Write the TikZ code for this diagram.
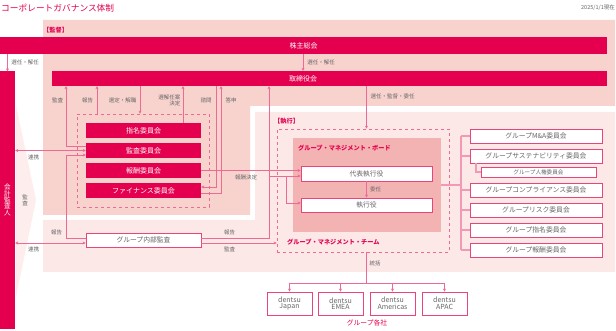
\documentclass[tikz,border=0pt]{standalone}
\usepackage{fontspec}
\setmainfont{Noto Sans CJK JP}
\usetikzlibrary{arrows.meta,calc}
\definecolor{mag}{HTML}{E4004F}
\definecolor{ln}{HTML}{EC6A93}
\definecolor{kan}{HTML}{F8D3CE}
\definecolor{shi}{HTML}{FDE8E8}
\definecolor{chev}{HTML}{FDEDED}
\definecolor{brd}{HTML}{F4B3B3}
\definecolor{txt}{HTML}{666666}
\definecolor{brk}{HTML}{F29AB5}
\definecolor{bx}{HTML}{E8457A}
\newcommand{\fsz}[1]{\fontsize{#1}{#1}\selectfont}
\begin{document}
\begin{tikzpicture}[x=1pt,y=-1pt,
  bar/.style={fill=mag,draw=none,text=white,font=\fsz{7},inner sep=0pt},
  wbox/.style={fill=white,draw=bx,line width=0.8pt,text=txt,font=\fsz{6.8},inner sep=0pt},
  lab/.style={text=txt,font=\fsz{5.5},inner sep=0pt},
  ttl/.style={text=mag,font=\bfseries\fsz{6.2},inner sep=0pt},
  arr/.style={draw=ln,line width=0.6pt,-{Stealth[length=3pt,width=3pt]}},
  dbl/.style={draw=ln,line width=0.6pt,{Stealth[length=3pt,width=3pt]}-{Stealth[length=3pt,width=3pt]}},
  link/.style={draw=ln,line width=0.6pt},
  brline/.style={draw=brk,line width=1.1pt}]
\useasboundingbox (0,0) rectangle (616,331);
% regions
\fill[kan] (43,20) -- (615,20) -- (615,106) -- (250,106) -- (250,215) -- (43,215) -- cycle;
\fill[shi] (255,112) -- (615,112) -- (615,272) -- (43,272) -- (43,220) -- (255,220) -- cycle;
\fill[chev] (16,105) -- (36,200) -- (16,297) -- cycle;
% titles
\node[anchor=west,text=mag,font=\fsz{8.7},inner sep=0pt] (title) at (1,8) {コーポレートガバナンス体制};
\node[anchor=east,lab] (date) at (615,8) {2025/1/1現在};
\node[anchor=west,ttl] (kantoku) at (43,30) {【監督】};
\node[anchor=west,ttl] (shikkoT) at (274,121) {【執行】};
% bars
\node[bar,minimum width=607,minimum height=17] (soukai) at (303.5,45.5) {株主総会};
\node[bar,minimum width=555,minimum height=15] (tori) at (329.5,78.5) {};
\node[text=white,font=\fsz{7},inner sep=0pt] (toriT) at (303,78.5) {取締役会};
\node[bar,minimum width=15,minimum height=257,align=center,font=\fsz{6.6}] (kaikei) at (7.5,200)
  {会\\[-0.2pt]計\\[-0.2pt]監\\[-0.2pt]査\\[-0.2pt]人};
% committees
\node[draw=ln,dashed,line width=0.6pt,minimum width=132,minimum height=93,inner sep=0pt] (cdash) at (143,160.5) {};
\node[bar,minimum width=115,minimum height=15] (shimei) at (143.5,130.5) {指名委員会};
\node[bar,minimum width=115,minimum height=15] (kansaC) at (143.5,150.5) {監査委員会};
\node[bar,minimum width=115,minimum height=15] (housyu) at (143.5,170.5) {報酬委員会};
\node[bar,minimum width=115,minimum height=15] (fin) at (143.5,190.5) {ファイナンス委員会};
\node[wbox,minimum width=115,minimum height=14] (naibu) at (143.5,240) {グループ内部監査};
% execution
\node[draw=ln,dashed,line width=0.6pt,minimum width=172,minimum height=123,inner sep=0pt] (team) at (363,190.5) {};
\node[fill=brd,minimum width=148,minimum height=94,inner sep=0pt] (board) at (367,185) {};
\node[anchor=west,ttl] (boardT) at (298,148) {グループ・マネジメント・ボード};
\node[anchor=west,ttl] (teamT) at (287,242) {グループ・マネジメント・チーム};
\node[wbox,minimum width=131,minimum height=15] (daihyo) at (366.5,173.5) {代表執行役};
\node[wbox,minimum width=131,minimum height=14] (shikkou) at (366.5,205) {執行役};
% right committees
\node[wbox,minimum width=132,minimum height=14] (ma) at (536,136) {グループM\&A委員会};
\node[wbox,minimum width=132,minimum height=14] (sus) at (536,156) {グループサステナビリティ委員会};
\node[wbox,minimum width=115,minimum height=10,font=\fsz{5.6}] (jinken) at (538.5,172) {グループ人権委員会};
\node[wbox,minimum width=132,minimum height=14] (comp) at (536,190) {グループコンプライアンス委員会};
\node[wbox,minimum width=132,minimum height=14] (risk) at (536,210) {グループリスク委員会};
\node[wbox,minimum width=132,minimum height=14] (gshimei) at (536,230) {グループ指名委員会};
\node[wbox,minimum width=132,minimum height=14] (ghou) at (536,250) {グループ報酬委員会};
% group companies
\node[wbox,minimum width=45,minimum height=23,align=center,font=\fsz{7}] (japan) at (289.5,303.5) {dentsu\\[-0.5pt]Japan};
\node[wbox,minimum width=45,minimum height=23,align=center,font=\fsz{7}] (emea) at (340.5,303.5) {dentsu\\[-0.5pt]EMEA};
\node[wbox,minimum width=45,minimum height=23,align=center,font=\fsz{7}] (amer) at (392.5,303.5) {dentsu\\[-0.5pt]Americas};
\node[wbox,minimum width=45,minimum height=23,align=center,font=\fsz{7}] (apac) at (444.5,303.5) {dentsu\\[-0.5pt]APAC};
\node[text=mag,font=\fsz{6.8},inner sep=0pt] (kakusha) at (367,323) {グループ各社};
% helper coordinates
\coordinate (xA) at (66,0);
\coordinate (xB) at (97,0);
\coordinate (xC) at (140,0);
\coordinate (xD) at (183,0);
\coordinate (xE) at (216,0);
\coordinate (xF) at (221,0);
\coordinate (xG) at (269,0);
\coordinate (xH) at (286,0);
\coordinate (xS) at (303,0);
\coordinate (xR) at (461,0);
\coordinate (xJ) at (476,0);
\coordinate (yT) at (0,176);
\coordinate (yBus) at (0,283);
\coordinate (kW1) at ([yshift=4.5pt]kansaC.west);
\coordinate (kW2) at ([yshift=-4.5pt]kansaC.west);
\coordinate (nE1) at ([yshift=2pt]naibu.east);
\coordinate (nE2) at ([yshift=-3pt]naibu.east);
\coordinate (nW1) at ([yshift=2pt]naibu.west);
\coordinate (nW2) at ([yshift=-3pt]naibu.west);
% connectors: supervision
\draw[arr] (soukai.south -| kaikei.north) -- (kaikei.north);
\draw[arr] (soukai.south -| xS) -- (tori.north -| xS);
\draw[arr] (kW1) -| (tori.south -| xA);
\draw[arr] (cdash.north -| xB) -- (tori.south -| xB);
\draw[arr] (tori.south -| xC) -- (cdash.north -| xC);
\draw[arr] (shimei.north -| xD) -- (tori.south -| xD);
\draw[arr] (tori.south -| xE) |- ([yshift=3.5pt]fin.east);
\draw[arr] ([yshift=-2.5pt]fin.east) -| (tori.south -| xF);
\draw[arr] (nE1) -| (tori.south -| xG);
\draw[arr] (xG |- yT) -- (daihyo.west |- yT);
\draw[arr] (xH |- yT) |- ([yshift=2pt]shikkou.west);
\draw[arr] (housyu.east) -- (daihyo.west |- housyu.east);
\draw[arr] (nE2) -- (team.west |- nE2);
\draw[arr] (nW1) -| (xA |- kW2) -- (kW2);
\draw[dbl] (kaikei.east |- kansaC.west) -- (kansaC.west);
\draw[dbl] (kaikei.east |- nW2) -- (nW2);
\draw[arr] (tori.south -| daihyo.north) -- (team.north -| daihyo.north);
\draw[arr] (daihyo.south) -- (shikkou.north);
% group companies
\draw[link] (team.south -| daihyo.south) -- (daihyo.south |- yBus);
\draw[link] (japan.north |- yBus) -- (apac.north |- yBus);
\foreach \n in {japan,emea,amer,apac} \draw[arr] (\n.north |- yBus) -- (\n.north);
% right bracket
\draw[brline] (board.east) -- (board.east -| xR);
\draw[brline] (xR |- ma.west) -- (xR |- ghou.west);
\foreach \n in {ma,sus,comp,risk,gshimei,ghou} \draw[brline] (xR |- \n.west) -- (\n.west);
\draw[brline] (sus.south -| xJ) |- (jinken.west);
% labels
\node[lab] (l1) at (25,62) {選任・解任};
\node[lab] (l2) at (321,62) {選任・解任};
\node[lab] (l3) at (57.5,100) {監査};
\node[lab] (l4) at (87.5,100) {報告};
\node[lab] (l5) at (122.5,100) {選定・解職};
\node[lab,anchor=east,align=right] (l6) at (180.5,100) {選解任案\\[0.5pt]決定};
\node[lab] (l7) at (206,100) {諮問};
\node[lab] (l8) at (231,100) {答申};
\node[lab] (l9) at (392.5,96) {選任・監督・委任};
\node[lab] (l10) at (33.5,157) {連携};
\node[lab] (l11) at (33.5,249) {連携};
\node[lab,align=center] (l12) at (25,200) {監\\[0.5pt]査};
\node[lab] (l13) at (246,177) {報酬決定};
\node[lab] (l14) at (56.5,232) {報告};
\node[lab] (l15) at (229.5,232) {報告};
\node[lab] (l16) at (229.5,249) {監査};
\node[lab] (l17) at (375.5,189) {委任};
\node[lab] (l18) at (375,263) {統括};
\end{tikzpicture}
\end{document}
